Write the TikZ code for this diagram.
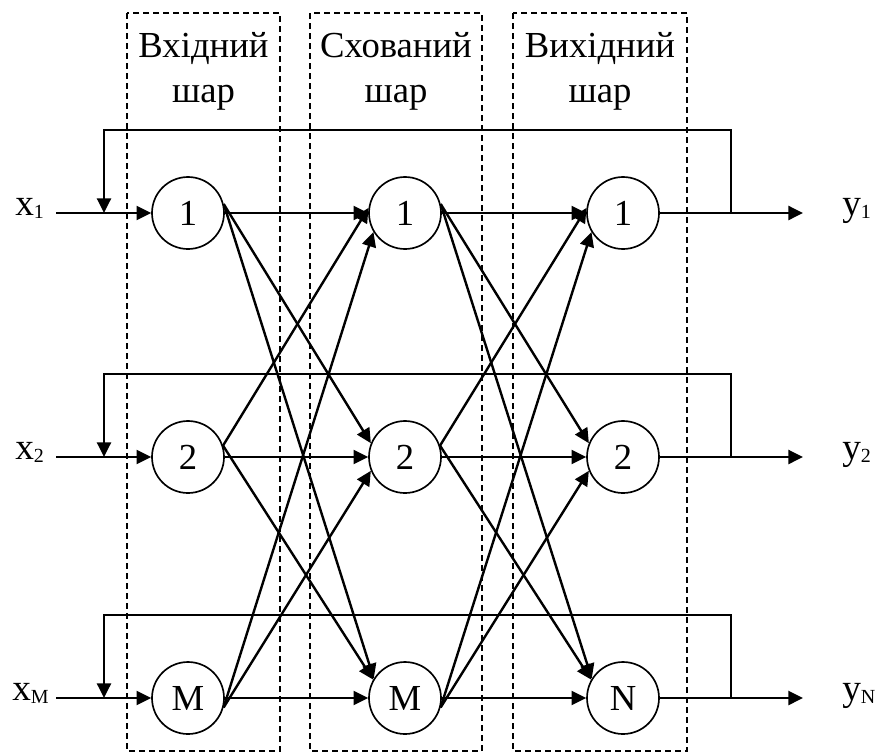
\documentclass[tikz,border=0pt]{standalone}
\usepackage{fontspec}
\setmainfont{Liberation Serif}
\usetikzlibrary{arrows.meta,calc}
\newcommand\lowsub[1]{\raisebox{-2.4pt}{\fontsize{15}{15}\selectfont #1}}
\begin{document}
\begin{tikzpicture}[x=0.75pt,y=-0.75pt,
  neuron/.style={circle,draw,line width=1.25pt,minimum size=54pt,inner sep=0pt,font=\fontsize{27.5}{32}\selectfont},
  conn/.style={line width=1.8pt,-{Triangle[length=11pt,width=10.5pt]}},
  layerbox/.style={draw,line width=1.05pt,dash pattern=on 4.5pt off 3pt},
  title/.style={font=\fontsize{27.5}{32}\selectfont,anchor=base,inner sep=0pt},
  io/.style={font=\fontsize{28}{30}\selectfont,anchor=base west,inner sep=0pt}]
\useasboundingbox (0,0) rectangle (877,753);

% layer boxes
\draw[layerbox] (127,13) rectangle (280,751);
\draw[layerbox] (310,13) rectangle (482,751);
\draw[layerbox] (513,13) rectangle (687,751);

% titles
\node[title] (t1a) at (203.5,57) {Вхідний};
\node[title] (t1b) at (203.5,102) {шар};
\node[title] (t2a) at (396,57) {Схований};
\node[title] (t2b) at (396,102) {шар};
\node[title] (t3a) at (600,57) {Вихідний};
\node[title] (t3b) at (600,102) {шар};

% neurons
\node[neuron] (a1) at (188,213) {1};
\node[neuron] (a2) at (188,457) {2};
\node[neuron] (a3) at (188,698) {M};
\node[neuron] (b1) at (405,213) {1};
\node[neuron] (b2) at (405,457) {2};
\node[neuron] (b3) at (405,698) {M};
\node[neuron] (c1) at (623,213) {1};
\node[neuron] (c2) at (623,457) {2};
\node[neuron] (c3) at (623,698) {N};

% input / output labels
\node[io] (x1) at (15,215) {x\lowsub{1}};
\node[io] (x2) at (15,459) {x\lowsub{2}};
\node[io] (xm) at (12,700) {x\lowsub{M}};
\node[io] (y1) at (842,215) {y\lowsub{1}};
\node[io] (y2) at (842,459) {y\lowsub{2}};
\node[io] (yn) at (842,700) {y\lowsub{N}};

% input line start points, output end points, feedback points
\foreach \i/\yy in {1/213,2/457,3/698}{
  \coordinate (in\i) at (56,\yy);
  \coordinate (out\i) at (803,\yy);
  \coordinate (tap\i) at (731,\yy);
  \coordinate (join\i) at (104,\yy);
}

% inputs, outputs and feedback
\foreach \i in {1,2,3}{
  \draw[conn] (in\i) -- (a\i.west);
  \draw[conn] (c\i.east) -- (out\i);
  \draw[conn] (tap\i) -- ++(0,-83) -| (join\i);
}

% connections between layers
\foreach \s/\t in {a/b,b/c}{
  % horizontal
  \draw[conn] (\s1.east) -- (\t1.west);
  \draw[conn] (\s2.east) -- (\t2.west);
  \draw[conn] (\s3.east) -- (\t3.west);
  % from row 1
  \draw[conn] (\s1.14) -- (\t2.158);
  \draw[conn] (\s1.14) -- (\t3.148);
  % from row 2
  \draw[conn] (\s2.18) -- (\t1.172);
  \draw[conn] (\s2.18) -- (\t3.150);
  % from row M
  \draw[conn] (\s3.-15) -- (\t1.211);
  \draw[conn] (\s3.-15) -- (\t2.202);
}
\end{tikzpicture}
\end{document}
